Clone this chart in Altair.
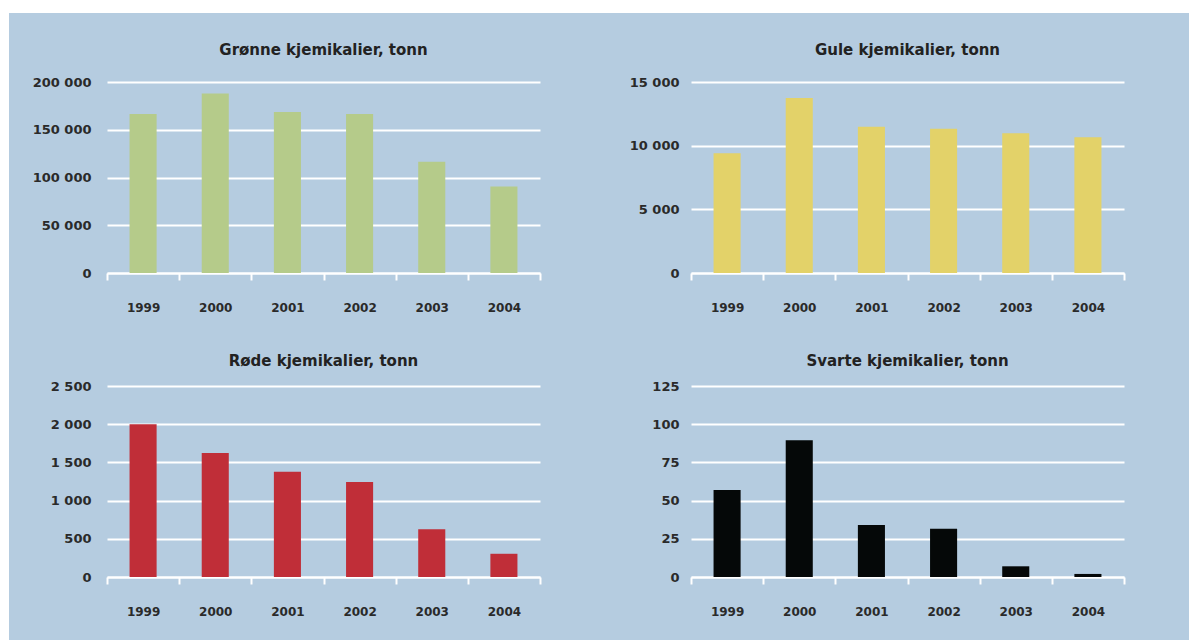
import altair as alt
import pandas as pd

# ---- data ----
years = ["1999", "2000", "2001", "2002", "2003", "2004"]
gronne = [166500, 188000, 168500, 166500, 116500, 90500]
gule = [9400, 13750, 11480, 11320, 10980, 10670]
rode = [2000, 1622, 1378, 1244, 626, 304]
svarte = [57, 89.5, 34, 31.5, 7, 2]

titles = ["Grønne kjemikalier, tonn", "Gule kjemikalier, tonn",
          "Røde kjemikalier, tonn", "Svarte kjemikalier, tonn"]
y_max = [200000, 15000, 2500, 125]
y_step = [50000, 5000, 500, 25]

# ---- styling ----
colors = ["#b5cb8a", "#e3d269", "#c02e38", "#050808"]
BG = "#b5cce0"
FONT = "DejaVu Sans"
TXT = "#2a2a2a"
W, H = 433, 191


def panel(i, values, left_col, title_offset, title_dy=0):
    df = pd.DataFrame({"year": years, "value": values})
    ticks = list(range(0, y_max[i] + 1, y_step[i]))
    bars = alt.Chart(df).mark_bar(color=colors[i], width=alt.RelativeBandSize(0.375)).encode(
        x=alt.X(
            "year:N", title=None, sort=None,
            scale=alt.Scale(paddingInner=0, paddingOuter=0),
            axis=alt.Axis(labelAngle=0, domain=True, domainColor="white", domainWidth=2,
                          ticks=True, tickColor="white", tickWidth=2, tickSize=7,
                          tickBand="extent", labelPadding=22, grid=False,
                          labelFont=FONT, labelFontSize=12, labelFontWeight="bold",
                          labelColor=TXT),
        ),
        y=alt.Y(
            "value:Q", title=None,
            scale=alt.Scale(domain=[0, y_max[i]], nice=False, zero=True),
            axis=alt.Axis(values=ticks, domain=False, ticks=False, grid=True,
                          gridColor="white", gridWidth=2,
                          labelPadding=16 if left_col else 12,
                          labelFont=FONT, labelFontSize=13, labelFontWeight="bold",
                          labelColor=TXT,
                          labelExpr="replace(format(datum.value, ','), ',', ' ')"),
        ),
    )
    return bars, alt.TitleParams(titles[i], frame="group", anchor="middle",
                                 offset=title_offset, dy=title_dy, font=FONT, fontSize=15,
                                 fontWeight="bold", color="#222222")


b1, t1 = panel(0, gronne, True, 22, 80)
b2, t2 = panel(1, gule, False, 18)
b3, t3 = panel(2, rode, True, 11)
b4, t4 = panel(3, svarte, False, 11)

# white page margin seen at the top and left of the reference (decoration)
blank = alt.Data(values=[{}])
top_strip = alt.Chart(blank).mark_rect(color="white").encode(
    x=alt.value(-107), x2=alt.value(1082), y=alt.value(-82), y2=alt.value(-69))
left_strip = alt.Chart(blank).mark_rect(color="white").encode(
    x=alt.value(-107), x2=alt.value(-98), y=alt.value(-82), y2=alt.value(558))

p1 = alt.layer(top_strip, left_strip, b1).properties(width=W, height=H, title=t1)
p2 = b2.properties(width=W, height=H, title=t2)
p3 = b3.properties(width=W, height=H, title=t3)
p4 = b4.properties(width=W, height=H, title=t4)

chart = alt.concat(
    p1, p2, p3, p4, columns=2,
    spacing={"row": 113, "column": 151},
    bounds="flush",
).properties(
    background=BG,
    padding=0,
).configure_view(stroke=None)

chart.save("out.html", embed_options={"renderer": "svg", "actions": False})
